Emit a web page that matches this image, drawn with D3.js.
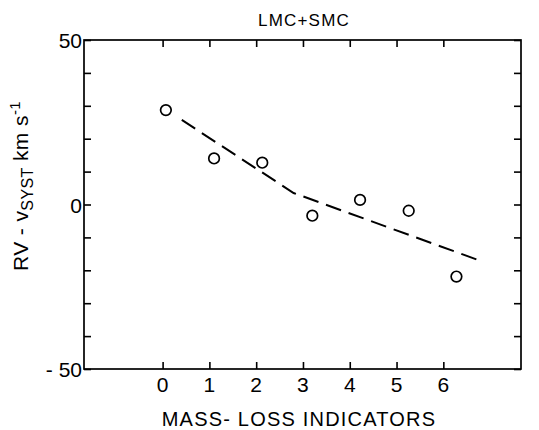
<!DOCTYPE html>
<html>
<head>
<meta charset="utf-8">
<script src="https://cdn.jsdelivr.net/npm/d3@7"></script>
<style>
  html, body { margin: 0; padding: 0; background: #fff; }
  svg { display: block; }
  text { font-family: "Liberation Sans", Arial, sans-serif; fill: #000; }
</style>
</head>
<body>
<svg id="chart" width="539" height="430"></svg>
<script>
// Mass-loss indicator count (as plotted) and mean radial velocity offset
const indicatorX = [0.07, 1.10, 2.13, 3.20, 4.22, 5.26, 6.28];
const rvOffset   = [28.7, 14.0, 12.7, -3.4, 1.4, -1.9, -21.9];

// Dashed trend line vertices
const trendX = [0.41, 2.80, 6.71];
const trendY = [25.7, 3.5, -16.7];

const xTicks = [0, 1, 2, 3, 4, 5, 6];
const yTicks = [-50, -40, -30, -20, -10, 0, 10, 20, 30, 40, 50];
const yLabels = [-50, 0, 50];

const svg = d3.select("#chart");
const m = { left: 84, right: 521, top: 40, bottom: 369 };

const x = d3.scaleLinear().domain([-1.68, 7.66]).range([m.left, m.right]);
const y = d3.scaleLinear().domain([-50, 50]).range([m.bottom, m.top]);

const tickLen = 7;
const g = svg.append("g");

// Frame
g.append("rect")
  .attr("x", m.left).attr("y", m.top)
  .attr("width", m.right - m.left).attr("height", m.bottom - m.top)
  .attr("fill", "none").attr("stroke", "#000").attr("stroke-width", 1.7);

// Inward ticks on all four sides, via d3 axes
const axBottom = d3.axisBottom(x).tickValues(xTicks).tickSize(-tickLen).tickFormat("");
const axTop = d3.axisTop(x).tickValues(xTicks).tickSize(-tickLen).tickFormat("");
const axLeft = d3.axisLeft(y).tickValues(yTicks).tickSize(-tickLen).tickFormat("");
const axRight = d3.axisRight(y).tickValues(yTicks).tickSize(-tickLen).tickFormat("");

function styleAxis(sel) {
  sel.select(".domain").remove();
  sel.selectAll(".tick line").attr("stroke", "#000").attr("stroke-width", 1.6);
}
g.append("g").attr("transform", `translate(0,${m.bottom})`).call(axBottom).call(styleAxis);
g.append("g").attr("transform", `translate(0,${m.top})`).call(axTop).call(styleAxis);
g.append("g").attr("transform", `translate(${m.left},0)`).call(axLeft).call(styleAxis);
g.append("g").attr("transform", `translate(${m.right},0)`).call(axRight).call(styleAxis);

// Tick labels
g.selectAll(".xlab").data(xTicks).join("text")
  .attr("x", d => x(d)).attr("y", 392)
  .attr("text-anchor", "middle").attr("font-size", 21)
  .text(d => d);

g.selectAll(".ylab").data(yLabels).join("text")
  .attr("x", 82).attr("y", d => y(d) + 8)
  .attr("text-anchor", "end").attr("font-size", 21)
  .text(d => d < 0 ? "- " + Math.abs(d) : d);

// Title
svg.append("text")
  .attr("x", 304).attr("y", 26)
  .attr("text-anchor", "middle").attr("font-size", 17)
  .attr("letter-spacing", 1.2)
  .text("LMC+SMC");

// X axis title
svg.append("text")
  .attr("x", 299).attr("y", 426)
  .attr("text-anchor", "middle").attr("font-size", 20)
  .attr("letter-spacing", 1.2)
  .text("MASS- LOSS INDICATORS");

// Y axis title
const yt = svg.append("text")
  .attr("transform", "translate(28,186) rotate(-90)")
  .attr("text-anchor", "middle").attr("font-size", 21)
  .attr("letter-spacing", 0.4);
yt.append("tspan").text("RV - v");
yt.append("tspan").attr("font-size", 16).attr("dy", 5).text("SYST");
yt.append("tspan").attr("dy", -5).text(" km s");
yt.append("tspan").attr("font-size", 15).attr("dy", -8).text("-1");

// Dashed trend
const line = d3.line().x(d => x(d[0])).y(d => y(d[1]));
g.append("path")
  .datum(d3.zip(trendX, trendY))
  .attr("d", line)
  .attr("fill", "none").attr("stroke", "#000")
  .attr("stroke-width", 2).attr("stroke-dasharray", "16,8");

// Data points
g.selectAll(".pt").data(d3.zip(indicatorX, rvOffset)).join("circle")
  .attr("cx", d => x(d[0])).attr("cy", d => y(d[1]))
  .attr("r", 5.3)
  .attr("fill", "none").attr("stroke", "#000").attr("stroke-width", 1.7);
</script>
</body>
</html>
